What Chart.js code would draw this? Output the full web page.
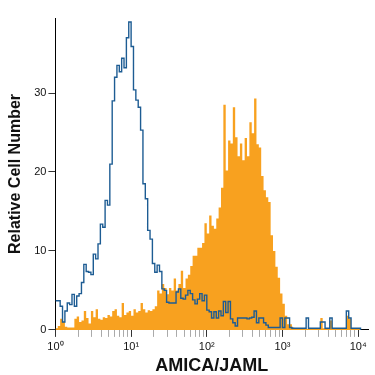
<!DOCTYPE html>
<html>
<head>
<meta charset="utf-8">
<script src="https://cdn.jsdelivr.net/npm/chart.js@4.4.1/dist/chart.umd.min.js"></script>
<style>
  html, body { margin: 0; padding: 0; background: #fff; }
</style>
</head>
<body>
<canvas id="chart" width="375" height="375"></canvas>
<script>
// histogram channels: 32 bins per decade, starting at 10^0
const binsPerDecade = 32;

// isotype control (blue outline)
const isotypeCounts = [
  3.7, 3.7, 3.0, 1.0, 2.4, 3.4, 3.2, 4.5, 3.0, 4.3,
  4.6, 6.0, 8.3, 7.4, 7.3, 7.0, 9.6, 9.0, 10.9, 13.4,
  13.0, 16.4, 15.8, 21.0, 29.0, 32.0, 33.5, 32.7, 34.4, 33.2,
  37.0, 39.0, 35.9, 30.4, 29.1, 28.2, 25.3, 18.5, 16.6, 12.6,
  11.5, 8.4, 7.3, 8.2, 7.4, 5.2, 5.0, 3.5, 3.4, 3.4,
  3.4, 4.8, 5.2, 4.0, 3.9, 4.4, 5.0, 4.6, 3.8, 3.3,
  3.9, 4.6, 3.7, 4.4, 2.5, 2.3, 1.5, 2.3, 1.5, 2.4,
  1.8, 3.6, 2.2, 3.6, 1.4, 0.9, 0.5, 1.5, 1.5, 1.5,
  1.5, 1.4, 1.5, 1.6, 2.4, 0.9, 1.5, 1.5, 0.9, 0.6,
  0.3, 0.3, 0.3, 0.3, 0.3, 1.5, 0.3, 1.5, 1.5, 0.3,
  0.2, 0.2, 0.2, 0.2, 0.2, 0.2, 1.5, 0.2, 0.2, 0.2,
  0.2, 0.2, 1.0, 1.0, 0.2, 0.2, 1.5, 0.2, 0.2, 0.2,
  0.2, 0.2, 0.2, 2.4, 1.5, 0.2, 0.2, 0.2, 0.2
];

// AMICA/JAML stained (orange fill)
const amicaCounts = [
  0.2, 0.5, 1.4, 1.0, 0.4, 0.3, 0.3, 0.3, 1.4, 1.7,
  1.0, 1.2, 2.4, 1.5, 0.8, 2.4, 1.6, 2.6, 1.4, 1.3,
  1.6, 1.5, 1.9, 1.7, 2.4, 2.6, 1.8, 1.6, 3.4, 1.9,
  2.2, 2.4, 1.8, 2.6, 2.2, 2.4, 3.4, 2.6, 2.2, 2.5,
  2.4, 2.6, 3.0, 5.0, 4.6, 5.8, 5.3, 4.5, 5.3, 5.0,
  6.5, 5.0, 5.8, 7.5, 5.3, 6.5, 7.0, 8.1, 9.4, 9.4,
  10.4, 10.4, 11.0, 13.5, 12.2, 14.5, 13.2, 12.8, 14.1, 15.5,
  18.0, 28.5, 20.2, 24.0, 23.6, 28.2, 24.4, 22.0, 23.6, 21.5,
  24.3, 22.0, 26.3, 24.9, 29.3, 23.5, 23.1, 19.5, 17.7, 16.8,
  16.2, 12.0, 10.0, 8.0, 6.6, 4.6, 3.3, 1.8, 0.7, 0.7,
  0.3, 0.2, 0.1, 0.1, 0.1, 0.1, 0.1, 0.1, 0.1, 0.1,
  0.1, 0.1, 1.5, 0.2, 0.1, 0.1, 1.2, 0.1, 0.1, 0.1,
  0.1, 0.1, 0.1, 1.8, 1.4, 0.1, 0.1, 0.1, 0.1
];

const yTicks = [0, 10, 20, 30];
const decades = [0, 1, 2, 3];
const superscripts = ['\u2070', '\u00b9', '\u00b2', '\u00b3', '\u2074'];

// x in log10 units
function toPoints(counts) {
  const pts = counts.map((c, i) => ({ x: i / binsPerDecade, y: c }));
  pts.push({ x: counts.length / binsPerDecade, y: 0 });
  return pts;
}

const xTickValues = [];
decades.forEach(d => {
  for (let k = 1; k <= 9; k++) xTickValues.push(d + Math.log10(k));
});
xTickValues.push(4);

const isMajor = v => Math.abs(v - Math.round(v)) < 1e-9;

const tickFont = { family: 'Liberation Sans, Arial, sans-serif', size: 11 };

new Chart(document.getElementById('chart').getContext('2d'), {
  type: 'line',
  data: {
    datasets: [
      {
        label: 'Isotype',
        data: toPoints(isotypeCounts),
        stepped: true,
        borderColor: '#1d5c93',
        borderWidth: 1.4,
        pointRadius: 0,
        fill: false
      },
      {
        label: 'AMICA/JAML',
        data: toPoints(amicaCounts),
        stepped: true,
        borderWidth: 0,
        borderColor: 'rgba(0,0,0,0)',
        backgroundColor: '#f8a11f',
        pointRadius: 0,
        fill: 'origin'
      }
    ]
  },
  options: {
    responsive: false,
    animation: false,
    devicePixelRatio: 1,
    layout: { padding: { top: 18, right: 7, left: 6, bottom: 0 } },
    plugins: { legend: { display: false }, tooltip: { enabled: false } },
    scales: {
      x: {
        type: 'linear',
        min: 0,
        max: 4.13,
        afterBuildTicks: scale => { scale.ticks = xTickValues.map(v => ({ value: v })); },
        ticks: {
          autoSkip: false,
          maxRotation: 0,
          padding: 3,
          color: '#111',
          font: tickFont,
          callback: v => isMajor(v) ? '10' + superscripts[Math.round(v)] : ''
        },
        grid: {
          drawOnChartArea: false,
          tickLength: 7,
          tickColor: ctx => isMajor(ctx.tick.value) ? '#333' : '#aaa'
        },
        border: { color: '#000', width: 1 },
        title: {
          display: true,
          text: 'AMICA/JAML',
          color: '#111',
          font: { family: 'Liberation Sans, Arial, sans-serif', size: 18, weight: 'bold', lineHeight: 1.05 },
          padding: { top: 0, bottom: 0 }
        }
      },
      y: {
        min: 0,
        max: 39.5,
        afterBuildTicks: scale => { scale.ticks = yTicks.map(v => ({ value: v })); },
        ticks: { padding: 2, color: '#111', font: tickFont },
        grid: { drawOnChartArea: false, tickLength: 7, tickColor: '#333' },
        border: { color: '#000', width: 1 },
        title: {
          display: true,
          text: 'Relative Cell Number',
          color: '#111',
          font: { family: 'Liberation Sans, Arial, sans-serif', size: 16, weight: 'bold' },
          padding: { top: 0, bottom: 7 }
        }
      }
    }
  }
});
</script>
</body>
</html>
